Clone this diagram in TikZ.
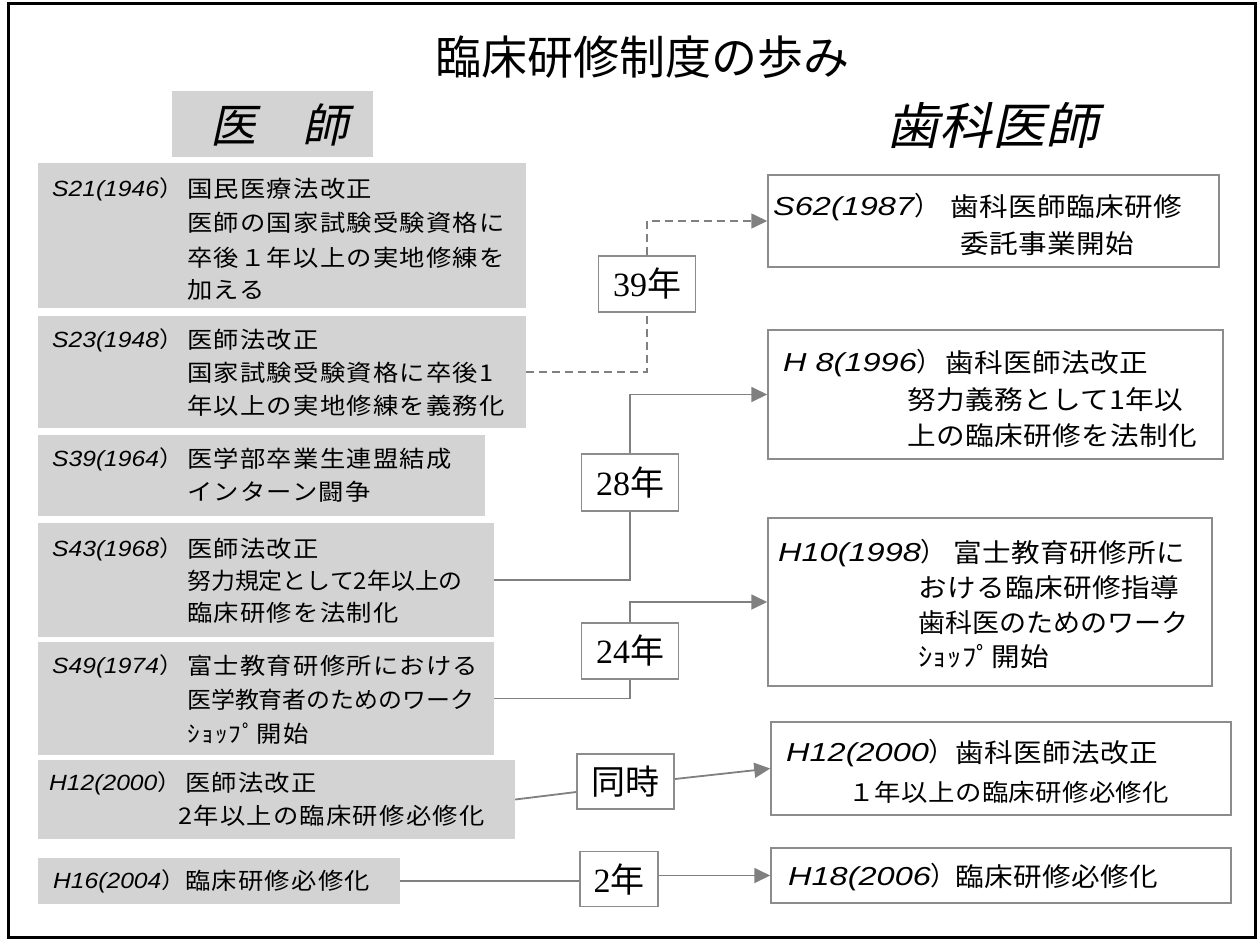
\documentclass[tikz,border=0pt]{standalone}
\usepackage{fontspec}
\usetikzlibrary{arrows.meta}
\newfontfamily\jp{Noto Sans CJK JP}[FakeStretch=1.1,LetterSpace=5.5]
\newfontfamily\jpn{Noto Sans CJK JP}[FakeStretch=1.04]
\newfontfamily\jpr{Noto Sans CJK JP}[FakeStretch=1.1,LetterSpace=1.5]
\newfontfamily\jpt{Noto Sans CJK JP}
\newfontfamily\jps{Noto Sans CJK JP}[FakeSlant=0.22]
\newfontfamily\jpsw{Noto Sans CJK JP}[FakeSlant=0.22,FakeStretch=1.06]
\newfontfamily\labl{Liberation Sans}[FakeStretch=1.12]
\newfontfamily\labr{Liberation Sans}[FakeStretch=1.25]
\newfontfamily\serf{Liberation Serif}
\definecolor{boxgray}{RGB}{211,211,211}
\definecolor{edgegray}{RGB}{140,140,140}
\definecolor{linegray}{RGB}{128,128,128}
\tikzset{
  lbox/.style={fill=boxgray,draw=none,inner sep=0pt},
  rbox/.style={fill=white,draw=edgegray,line width=1.5pt,inner sep=0pt},
  ybox/.style={fill=white,draw=edgegray,line width=1.5pt,inner sep=0pt,
    font=\fontsize{34}{34}\selectfont},
  lt/.style={anchor=west,inner sep=0pt,font=\jp\fontsize{23}{23}\selectfont},
  ltn/.style={anchor=west,inner sep=0pt,font=\jpn\fontsize{23}{23}\selectfont},
  ll/.style={anchor=west,inner sep=0pt,font=\labl\itshape\fontsize{22}{22}\selectfont},
  rt/.style={anchor=west,inner sep=0pt,font=\jpr\fontsize{26}{26}\selectfont},
  rtn/.style={anchor=west,inner sep=0pt,font=\jpn\fontsize{26}{26}\selectfont},
  rts/.style={anchor=west,inner sep=0pt,font=\jpr\fontsize{24}{24}\selectfont},
  rl/.style={anchor=west,inner sep=0pt,font=\labr\itshape\fontsize{26}{26}\selectfont},
  conn/.style={draw=linegray,line width=1.8pt},
  dconn/.style={draw=linegray,line width=1.6pt,dash pattern=on 8pt off 5pt},
  tip/.style={-{Triangle[length=16pt,width=15pt]}}
}
\newcommand\yr[2]{{\serf #1}{\jpt #2}}
\begin{document}
\begin{tikzpicture}[x=1pt,y=-1pt]
\useasboundingbox (0,0) rectangle (1258,940);
\draw[line width=3pt] (8,3) rectangle (1255,937);

% title and headers
\node[font=\jpt\fontsize{46}{46}\selectfont] (title) at (642,57) {臨床研修制度の歩み};
\node[lbox,minimum width=201pt,minimum height=66pt] (hdbox) at (272,124) {};
\node[font=\jps\fontsize{46}{46}\selectfont] (hd1) at (279,125) {医　師};
\node[font=\jpsw\fontsize{50}{50}\selectfont] (hd2) at (992,125) {歯科医師};

% left boxes
\node[lbox,minimum width=488pt,minimum height=145pt] (ls21) at (282,235.5) {};
\node[lbox,minimum width=488pt,minimum height=112pt] (ls23) at (282,372) {};
\node[lbox,minimum width=447pt,minimum height=81pt] (ls39) at (261.5,475.5) {};
\node[lbox,minimum width=456pt,minimum height=114pt] (ls43) at (266,580) {};
\node[lbox,minimum width=456pt,minimum height=113pt] (ls49) at (266,698.5) {};
\node[lbox,minimum width=477pt,minimum height=79pt] (lh12) at (276.5,799.5) {};
\node[lbox,minimum width=362pt,minimum height=46pt] (lh16) at (219,881) {};

% left texts
\node[ll] (a1) at (52,189) {S21(1946{\jp ）}};
\node[lt] (a2) at (187,189) {国民医療法改正};
\node[lt] (a3) at (187,223) {医師の国家試験受験資格に};
\node[lt] (a4) at (187,258) {卒後１年以上の実地修練を};
\node[lt] (a5) at (187,290) {加える};

\node[ll] (b1) at (52,340) {S23(1948{\jp ）}};
\node[lt] (b2) at (187,340) {医師法改正};
\node[lt] (b3) at (187,373) {国家試験受験資格に卒後1};
\node[lt] (b4) at (187,406) {年以上の実地修練を義務化};

\node[ll] (c1) at (52,459) {S39(1964{\jp ）}};
\node[lt] (c2) at (187,459) {医学部卒業生連盟結成};
\node[lt] (c3) at (187,492) {インターン闘争};

\node[ll] (d1) at (52,549) {S43(1968{\jp ）}};
\node[lt] (d2) at (187,549) {医師法改正};
\node[ltn] (d3) at (187,581) {努力規定として2年以上の};
\node[lt] (d4) at (187,613) {臨床研修を法制化};

\node[ll] (e1) at (52,666) {S49(1974{\jp ）}};
\node[lt] (e2) at (187,666) {富士教育研修所における};
\node[ltn] (e3) at (187,700) {医学教育者のためのワーク};
\node[lt] (e4) at (187,734) {ｼｮｯﾌﾟ開始};

\node[ll] (f1) at (49,783) {H12(2000{\jp ）}};
\node[lt] (f2) at (185,783) {医師法改正};
\node[lt] (f3) at (178,816) {2年以上の臨床研修必修化};

\node[ll] (g1) at (53,881) {H16(2004{\jp ）}};
\node[lt] (g2) at (185,881) {臨床研修必修化};

% right boxes
\node[rbox,minimum width=451pt,minimum height=92pt] (rs62) at (993.5,221) {};
\node[rbox,minimum width=455pt,minimum height=129pt] (rh8) at (995.5,394.5) {};
\node[rbox,minimum width=444pt,minimum height=168pt] (rh10) at (990,602) {};
\node[rbox,minimum width=460pt,minimum height=93pt] (rh12) at (1001,768.5) {};
\node[rbox,minimum width=460pt,minimum height=55pt] (rh18) at (1001,875.5) {};

% right texts
\node[rl] (p1) at (773,207) {S62(1987{\jpt ）}};
\node[rt] (p2) at (950,207) {歯科医師臨床研修};
\node[rt] (p3) at (960,244) {委託事業開始};

\node[rl] (q1) at (783,363) {H 8(1996{\jpt ）}};
\node[rt] (q2) at (945,363) {歯科医師法改正};
\node[rt] (q3) at (907,400) {努力義務として1年以};
\node[rt] (q4) at (907,436) {上の臨床研修を法制化};

\node[rl] (r1) at (778,553) {H10(1998{\jpt ）}};
\node[rt] (r2) at (953,553) {富士教育研修所に};
\node[rt] (r3) at (918,588) {おける臨床研修指導};
\node[rtn] (r4) at (918,623) {歯科医のためのワーク};
\node[rt] (r5) at (918,657) {ｼｮｯﾌﾟ開始};

\node[rl] (s1) at (786,753) {H12(2000{\jpt ）}};
\node[rt] (s2) at (955,753) {歯科医師法改正};
\node[rts] (s3) at (848,792) {１年以上の臨床研修必修化};

\node[rl] (u1) at (788,877) {H18(2006{\jpt ）}};
\node[rt] (u2) at (955,877) {臨床研修必修化};

% year boxes
\node[ybox,minimum width=97pt,minimum height=56pt] (y39) at (647,284) {\yr{39}{年}};
\node[ybox,minimum width=97pt,minimum height=57pt] (y28) at (630,482.5) {\yr{28}{年}};
\node[ybox,minimum width=97pt,minimum height=56pt] (y24) at (630,651) {\yr{24}{年}};
\node[ybox,minimum width=97pt,minimum height=55pt] (ydj) at (625.5,781.5) {{\jpt 同時}};
\node[ybox,minimum width=78pt,minimum height=55pt] (y2) at (619,879) {\yr{2}{年}};

% connectors
\draw[dconn] (ls23.east) -| (y39.south);
\draw[dconn,tip] (y39.north) |- (rs62.west);
\draw[conn] (ls43.east) -| (y28.south);
\draw[conn,tip] (y28.north) |- (rh8.west);
\draw[conn] (ls49.east) -| (y24.south);
\draw[conn,tip] (y24.north) |- (rh10.west);
\draw[conn] (lh12.east) -- ([yshift=-10.5pt]ydj.west);
\draw[conn,tip] ([yshift=2.5pt]ydj.east) -- (rh12.west);
\draw[conn] (lh16.east) -- (lh16.east -| y2.west);
\draw[conn,tip] (y2.east |- rh18.west) -- (rh18.west);
\end{tikzpicture}
\end{document}
